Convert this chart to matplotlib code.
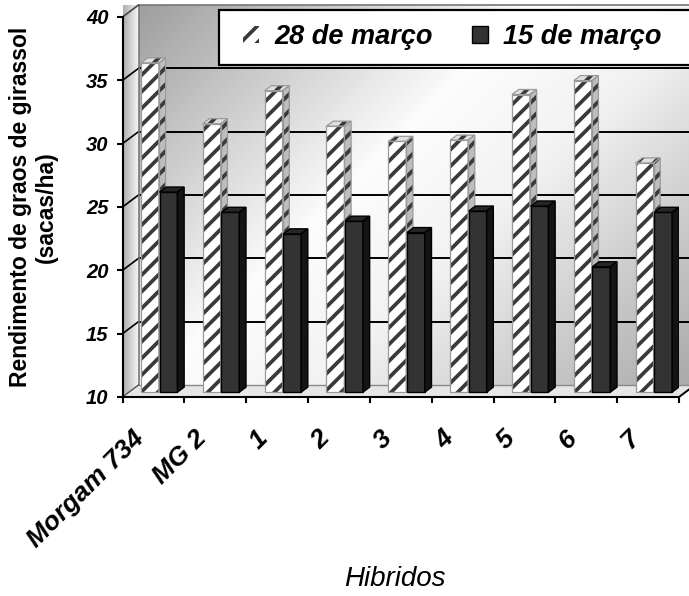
import numpy as np
import matplotlib
matplotlib.use("Agg")
import matplotlib.pyplot as plt
from matplotlib.patches import Polygon, Rectangle, Patch
from matplotlib.transforms import ScaledTranslation

# rendimento de graos por hibrido (sacas/ha)
hibridos = ["Morgam 734", "MG 2", "1", "2", "3", "4", "5", "6", "7"]
rend_28_marco = [36.0, 31.2, 33.8, 31.0, 29.8, 29.9, 33.5, 34.6, 28.1]
rend_15_marco = [25.8, 24.2, 22.5, 23.5, 22.6, 24.3, 24.7, 19.9, 24.2]
y_ticks = [10, 15, 20, 25, 30, 35, 40]
series_labels = ["28 de março", "15 de março"]

plt.rcParams["font.family"] = ["Liberation Sans", "DejaVu Sans"]
plt.rcParams["hatch.linewidth"] = 2.7

W, H = 689, 596
fig = plt.figure(figsize=(W / 100, H / 100), dpi=100)
ax = fig.add_axes([122.5 / W, (H - 397) / H, 556.5 / W, 380 / H])
ax.patch.set_visible(False)

n = len(hibridos)
idx = np.arange(n)
x0, x1 = -0.5, n - 0.5
ymin, ymax = y_ticks[0], y_ticks[-1]
ax.set_xlim(x0, x1)
ax.set_ylim(ymin, ymax)

# oblique depth of the box, in data units
DX = 16 / (556.5 / n)
DY = 12 / (380 / (ymax - ymin))


def shaded_patch(xy, img, extent, z):
    clip = Polygon(xy, closed=True, transform=ax.transData)
    im = ax.imshow(np.dstack([img, img, img]), extent=extent, origin="upper",
                   aspect="auto", interpolation="bilinear", zorder=z, clip_on=False)
    im.set_clip_path(clip)


# back wall with diagonal gradient
u = np.linspace(0, 1, 400)[None, :]
v = np.linspace(0, 1, 300)[:, None]
t = (u * 557 + v * 380) / 937
wall = np.interp(t, [0, 0.42, 0.6, 1], [0.62, 0.99, 0.95, 0.66])
wall_xy = [(x0 + DX, ymin + DY), (x1 + DX, ymin + DY), (x1 + DX, ymax + DY), (x0 + DX, ymax + DY)]
shaded_patch(wall_xy, wall, [x0 + DX, x1 + DX, ymin + DY, ymax + DY], 0.5)

# side wall
side = np.interp(np.linspace(0, 1, 50)[None, :] + 0 * v, [0, 1], [0.68, 0.97])
side_xy = [(x0, ymin), (x0 + DX, ymin + DY), (x0 + DX, ymax + DY), (x0, ymax)]
shaded_patch(side_xy, side, [x0, x0 + DX, ymin, ymax + DY], 0.5)

# floor
floor_xy = [(x0, ymin), (x1, ymin), (x1 + DX, ymin + DY), (x0 + DX, ymin + DY)]
ax.add_patch(Polygon(floor_xy, closed=True, facecolor="#e6e6e6", edgecolor="none",
                     zorder=0.6, clip_on=False))

# gridlines on wall and side wall
for yv in y_ticks[1:-1]:
    ax.plot([x0 + DX, x1 + DX], [yv + DY, yv + DY], color="black", lw=1.4,
            zorder=0.8, clip_on=False)
    ax.plot([x0, x0 + DX], [yv, yv + DY], color="black", lw=1.2, zorder=0.8, clip_on=False)

# box edges
ax.plot([x0 + DX, x0 + DX, x1 + DX], [ymin + DY, ymax + DY, ymax + DY], color="#777777",
        lw=1.2, zorder=0.8, clip_on=False)
ax.plot([x0, x0 + DX], [ymax, ymax + DY], color="#444444", lw=1.2, zorder=0.8, clip_on=False)
ax.plot([x0 + DX, x1 + DX], [ymin + DY, ymin + DY], color="#8a8a8a", lw=1.0, zorder=0.8,
        clip_on=False)
ax.plot([x0, x0 + DX], [ymin, ymin + DY], color="#555555", lw=1.0, zorder=0.8, clip_on=False)
ax.plot([x1, x1 + DX], [ymin, ymin + DY], color="black", lw=1.4, zorder=0.8, clip_on=False)

# bars
f0, f1 = 0.4, 0.82
bw = 0.29
ddx, ddy = (f1 - f0) * DX, (f1 - f0) * DY
sx, sy = f0 * DX, f0 * DY


def draw_bars(values, off, z, front, top, right, edge, hatch=None, hatch_col=None):
    values = np.asarray(values)
    xs = idx + off + sx
    if hatch:
        ax.bar(xs, values - ymin, bottom=ymin + sy, width=bw, color=front,
               edgecolor=hatch_col, hatch=hatch, linewidth=0, zorder=z)
        ax.bar(xs, values - ymin, bottom=ymin + sy, width=bw, fill=False,
               edgecolor=edge, linewidth=0.9, zorder=z + 0.01)
    else:
        ax.bar(xs, values - ymin, bottom=ymin + sy, width=bw, color=front,
               edgecolor=edge, linewidth=1.0, zorder=z)
    for xc, val in zip(xs, values):
        xl, xr = xc - bw / 2, xc + bw / 2
        yb, yt = ymin + sy, val + sy
        top_xy = [(xl, yt), (xr, yt), (xr + ddx, yt + ddy), (xl + ddx, yt + ddy)]
        side_xy = [(xr, yb), (xr + ddx, yb + ddy), (xr + ddx, yt + ddy), (xr, yt)]
        for xy, col in ((top_xy, top), (side_xy, right)):
            if hatch:
                ax.add_patch(Polygon(xy, closed=True, facecolor=col, edgecolor=hatch_col,
                                     hatch=hatch, lw=0, zorder=z))
                ax.add_patch(Polygon(xy, closed=True, fill=False, edgecolor=edge,
                                     lw=0.9, zorder=z + 0.01))
            else:
                ax.add_patch(Polygon(xy, closed=True, facecolor=col, edgecolor=edge,
                                     lw=1.0, zorder=z))


draw_bars(rend_28_marco, -0.16, 3, "white", "#e0e0e0", "#bdbdbd", "#9a9a9a",
          hatch="//", hatch_col="#3a3a3a")
draw_bars(rend_15_marco, 0.14, 4, "#333333", "#262626", "#141414", "black")

# axes
for s in ("top", "right"):
    ax.spines[s].set_visible(False)
for s in ("left", "bottom"):
    ax.spines[s].set_linewidth(1.5)
    ax.spines[s].set_zorder(5)

ax.set_yticks(y_ticks)
ax.set_yticklabels([str(t_) for t_ in y_ticks], fontsize=14.5, fontweight="bold",
                   fontstyle="italic")
ax.tick_params(axis="y", length=4, width=1.5, pad=6)

ax.set_xticks(np.arange(n + 1) - 0.5)
ax.set_xticklabels([])
ax.tick_params(axis="x", which="major", length=4, width=1.5)
ax.set_xticks(idx, minor=True)
ax.set_xticklabels(hibridos, minor=True, rotation=45, ha="right", va="center",
                   rotation_mode="anchor", fontsize=19, fontweight="bold", fontstyle="italic")
ax.tick_params(axis="x", which="minor", length=0, pad=27)
shift = ScaledTranslation(-13 / 100, 0, fig.dpi_scale_trans)
for lab in ax.get_xticklabels(minor=True):
    lab.set_transform(lab.get_transform() + shift)

ax.set_ylabel("Rendimento de graos de girassol\n(sacas/ha)", fontsize=16.5,
              fontweight="bold", linespacing=1.2, labelpad=20)
ax.set_xlabel("Hibridos", fontsize=20, fontstyle="italic")
ax.xaxis.set_label_coords(0.49, -0.445)

# legend box
fig.add_artist(Rectangle((219 / W, 1 - 65 / H), 0.7, 55 / H, transform=fig.transFigure,
                         facecolor="white", edgecolor="black", lw=1.6, zorder=4))
handles = [Patch(facecolor="white", edgecolor="#3a3a3a", hatch="//", lw=0),
           Patch(facecolor="#333333", edgecolor="black", lw=1.0)]
fig.legend(handles, series_labels, loc="center left", bbox_to_anchor=(232 / W, 1 - 37 / H),
           ncol=2, frameon=False, handlelength=0.6, handleheight=0.6, handletextpad=0.55,
           columnspacing=1.45, borderaxespad=0,
           prop=dict(size=19.5, weight="bold", style="italic"))

fig.savefig("out.png", dpi=100)
